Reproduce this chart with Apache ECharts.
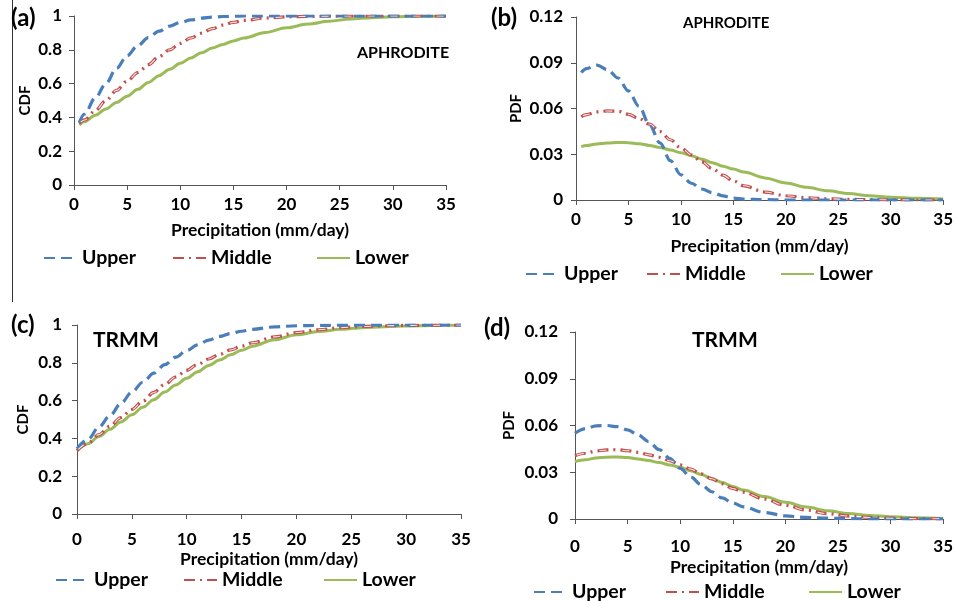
<!DOCTYPE html>
<html>
<head>
    <meta charset="utf-8">
    <title>CDF / PDF of precipitation</title>
    <script src="https://cdn.jsdelivr.net/npm/echarts@6/dist/echarts.min.js"></script>
    <style>
        html, body { margin: 0; padding: 0; background: #ffffff; }
        #chart { width: 956px; height: 601px; }
    </style>
</head>
<body>
<div id="chart"></div>
<script>
    // precipitation grid (mm/day); APHRODITE curves start at 0.5, TRMM at 0
    const xAph = [0.5, 1, 2, 3, 4, 5, 6, 7, 8, 9, 10, 11, 12, 13, 14, 15, 16, 18, 20, 22, 24, 26, 28, 30, 32.5, 35];
    const xTrmm = [0, 1, 2, 3, 4, 5, 6, 7, 8, 9, 10, 11, 12, 13, 14, 15, 16, 18, 20, 22, 24, 26, 28, 30, 32.5, 35];

    // (a) APHRODITE CDF
    const cdfAphUpper = [0.37, 0.42, 0.515, 0.6, 0.69, 0.765, 0.825, 0.872, 0.91, 0.94, 0.962, 0.977, 0.987, 0.993, 0.997, 0.999, 1, 1, 1, 1, 1, 1, 1, 1, 1, 1];
    const cdfAphMiddle = [0.365, 0.385, 0.44, 0.5, 0.56, 0.615, 0.665, 0.712, 0.76, 0.8, 0.838, 0.87, 0.898, 0.925, 0.946, 0.962, 0.974, 0.988, 0.995, 0.998, 0.999, 1, 1, 1, 1, 1];
    const cdfAphLower = [0.355, 0.375, 0.413, 0.45, 0.488, 0.525, 0.566, 0.607, 0.647, 0.685, 0.72, 0.752, 0.783, 0.81, 0.832, 0.852, 0.87, 0.902, 0.93, 0.952, 0.969, 0.982, 0.99, 0.995, 0.998, 1];

    // (b) APHRODITE PDF
    const pdfAphUpper = [0.0836, 0.0862, 0.0885, 0.0855, 0.08, 0.0715, 0.0615, 0.0495, 0.0375, 0.0258, 0.0165, 0.011, 0.0072, 0.0048, 0.0027, 0.0012, 0.0006, 0.0002, 0, 0, 0, 0, 0, 0, 0, 0];
    const pdfAphMiddle = [0.0546, 0.056, 0.0578, 0.0584, 0.0582, 0.0562, 0.0535, 0.0498, 0.0448, 0.0395, 0.0342, 0.0295, 0.025, 0.0205, 0.0163, 0.0125, 0.0093, 0.0052, 0.0028, 0.0015, 0.0008, 0.0004, 0.0002, 0.0001, 0, 0];
    const pdfAphLower = [0.035, 0.0357, 0.0368, 0.0374, 0.0377, 0.0376, 0.0369, 0.0358, 0.0344, 0.0328, 0.031, 0.029, 0.0268, 0.0245, 0.0222, 0.0203, 0.0183, 0.0145, 0.0112, 0.0083, 0.006, 0.0042, 0.0028, 0.0018, 0.0011, 0.0007];

    // (c) TRMM CDF
    const cdfTrmmUpper = [0.345, 0.395, 0.46, 0.52, 0.585, 0.645, 0.697, 0.745, 0.79, 0.83, 0.865, 0.895, 0.92, 0.94, 0.955, 0.967, 0.977, 0.99, 0.996, 0.998, 0.999, 1, 1, 1, 1, 1];
    const cdfTrmmMiddle = [0.335, 0.375, 0.42, 0.465, 0.51, 0.553, 0.597, 0.643, 0.686, 0.725, 0.76, 0.792, 0.82, 0.845, 0.868, 0.888, 0.906, 0.937, 0.96, 0.975, 0.986, 0.992, 0.996, 0.998, 0.999, 1];
    const cdfTrmmLower = [0.335, 0.372, 0.41, 0.448, 0.487, 0.525, 0.565, 0.605, 0.645, 0.683, 0.718, 0.752, 0.786, 0.815, 0.842, 0.866, 0.888, 0.922, 0.948, 0.965, 0.977, 0.986, 0.991, 0.995, 0.998, 0.999];

    // (d) TRMM PDF
    const pdfTrmmUpper = [0.055, 0.058, 0.0598, 0.06, 0.0593, 0.0572, 0.054, 0.0497, 0.0445, 0.039, 0.0325, 0.027, 0.022, 0.0175, 0.0135, 0.0103, 0.0078, 0.0042, 0.002, 0.001, 0.0005, 0.0002, 0.0001, 0, 0, 0];
    const pdfTrmmMiddle = [0.0406, 0.0422, 0.0436, 0.0443, 0.0445, 0.0438, 0.0428, 0.0412, 0.0396, 0.0374, 0.0348, 0.032, 0.029, 0.0258, 0.0226, 0.0196, 0.0172, 0.0128, 0.0088, 0.0057, 0.0034, 0.0019, 0.001, 0.0005, 0.0002, 0.0001];
    const pdfTrmmLower = [0.0368, 0.038, 0.0392, 0.0397, 0.0398, 0.0394, 0.0385, 0.0375, 0.0362, 0.0347, 0.0332, 0.031, 0.0285, 0.026, 0.0234, 0.0208, 0.0186, 0.0144, 0.0107, 0.0077, 0.0053, 0.0035, 0.0023, 0.0014, 0.0008, 0.0004];

    const seriesNames = ['Upper', 'Middle', 'Lower'];
    const xTitle = 'Precipitation (mm/day)';

    const FONT = 'Lato';
    const BLUE = '#4a7ebb', RED = '#c0504d', GREEN = '#9bbb59';

    // one entry per panel: grid box, axis settings, label/title placement
    const panels = [
        { x: xAph, ys: [cdfAphUpper, cdfAphMiddle, cdfAphLower], grid: [74, 16, 372, 169], ymax: 1, yint: 0.2, yname: 'CDF',
          ylm: 12, xlm: 11, xng: 36, yng: 41, tag: '(a)', tagPos: [11, 6], src: 'APHRODITE', srcPos: [357, 45], srcSize: 16,
          legend: [[43, 172, 316], 248] },
        { x: xAph, ys: [pdfAphUpper, pdfAphMiddle, pdfAphLower], grid: [576, 17, 369, 183], ymax: 0.12, yint: 0.03, yname: 'PDF',
          ylm: 13, xlm: 11, xng: 37, yng: 52, tag: '(b)', tagPos: [491, 6], src: 'APHRODITE', srcPos: [683, 16], srcSize: 15,
          legend: [[525, 646, 780], 264] },
        { x: xTrmm, ys: [cdfTrmmUpper, cdfTrmmMiddle, cdfTrmmLower], grid: [77, 325, 384, 189], ymax: 1, yint: 0.2, yname: 'CDF',
          ylm: 15, xlm: 17, xng: 36, yng: 46, tag: '(c)', tagPos: [11, 313], src: 'TRMM', srcPos: [93, 330], srcSize: 21,
          legend: [[55, 183, 323], 570] },
        { x: xTrmm, ys: [pdfTrmmUpper, pdfTrmmMiddle, pdfTrmmLower], grid: [575, 332, 370, 187], ymax: 0.12, yint: 0.03, yname: 'PDF',
          ylm: 17, xlm: 19, xng: 39, yng: 58, tag: '(d)', tagPos: [484, 316], src: 'TRMM', srcPos: [692, 330], srcSize: 21,
          legend: [[533, 665, 808], 582] }
    ];

    const axisColor = '#555';
    const grids = [], xAxes = [], yAxes = [], series = [], titles = [], legends = [];

    panels.forEach((p, i) => {
        grids.push({ left: p.grid[0], top: p.grid[1], width: p.grid[2], height: p.grid[3], containLabel: false });
        xAxes.push({
            type: 'value', gridIndex: i, min: 0, max: 35, interval: 5,
            name: xTitle, nameLocation: 'middle', nameGap: p.xng,
            nameTextStyle: { fontFamily: FONT, fontWeight: 'bold', fontSize: 17.5, color: '#000' },
            axisLine: { onZero: false, lineStyle: { color: axisColor, width: 1 } },
            axisTick: { show: true, length: 5, lineStyle: { color: axisColor } },
            axisLabel: { margin: p.xlm, fontFamily: FONT, fontWeight: 'bold', fontSize: 17, color: '#000' },
            splitLine: { show: false }
        });
        yAxes.push({
            type: 'value', gridIndex: i, min: 0, max: p.ymax, interval: p.yint,
            name: p.yname, nameLocation: 'middle', nameGap: p.yng, nameRotate: 90,
            nameTextStyle: { fontFamily: FONT, fontWeight: 'bold', fontSize: 15, color: '#000' },
            axisLine: { show: true, lineStyle: { color: axisColor, width: 1 } },
            axisTick: { show: true, length: 5, lineStyle: { color: axisColor } },
            axisLabel: { margin: p.ylm, fontFamily: FONT, fontWeight: 'bold', fontSize: 17, color: '#000' },
            splitLine: { show: false }
        });

        const styles = [
            { color: BLUE, width: 3.2, type: [11, 6] },
            { color: RED, width: 3.2, type: [11, 5, 2, 5] },
            { color: GREEN, width: 3, type: 'solid' }
        ];
        seriesNames.forEach((name, k) => {
            const data = p.x.map((x, j) => [x, p.ys[k][j]]);
            series.push({
                name: name, type: 'line', xAxisIndex: i, yAxisIndex: i,
                data: data, smooth: 0.35, smoothMonotone: 'x', symbol: 'none', showSymbol: false,
                lineStyle: styles[k], itemStyle: { color: styles[k].color },
                z: 3 - k + 2, silent: true
            });
            if (name === 'Middle') {
                // pale core inside the red dashes, like the hollow Excel dash
                series.push({
                    name: 'Middle core', type: 'line', xAxisIndex: i, yAxisIndex: i,
                    data: data, smooth: 0.35, smoothMonotone: 'x', symbol: 'none',
                    lineStyle: { color: '#fbe4e3', width: 1.1, type: [0, 2, 7, 14] },
                    z: 5, silent: true
                });
            }
        });

        titles.push({ text: p.tag, left: p.tagPos[0], top: p.tagPos[1], padding: 0,
            textStyle: { fontFamily: FONT, fontWeight: 'bold', fontSize: 24, color: '#000' } });
        titles.push({ text: p.src, left: p.srcPos[0], top: p.srcPos[1], padding: 0,
            textStyle: { fontFamily: FONT, fontWeight: 'bold', fontSize: p.srcSize, color: '#000' } });

        seriesNames.forEach((name, k) => {
            legends.push({
                data: [name], left: p.legend[0][k], top: p.legend[1], padding: 0,
                itemWidth: 33, itemHeight: 18, itemGap: 6, selectedMode: false,
                itemStyle: { opacity: 0 },
                textStyle: { fontFamily: FONT, fontWeight: 'bold', fontSize: 19.5, color: '#000' }
            });
        });
    });

    const chart = echarts.init(document.getElementById('chart'), null, { renderer: 'canvas' });
    chart.setOption({
        animation: false,
        backgroundColor: '#ffffff',
        title: titles,
        legend: legends,
        grid: grids,
        xAxis: xAxes,
        yAxis: yAxes,
        series: series,
        graphic: [{
            type: 'line', shape: { x1: 12.5, y1: 0, x2: 12.5, y2: 302 },
            style: { stroke: '#333', lineWidth: 1 }, silent: true
        }]
    });
</script>
</body>
</html>
